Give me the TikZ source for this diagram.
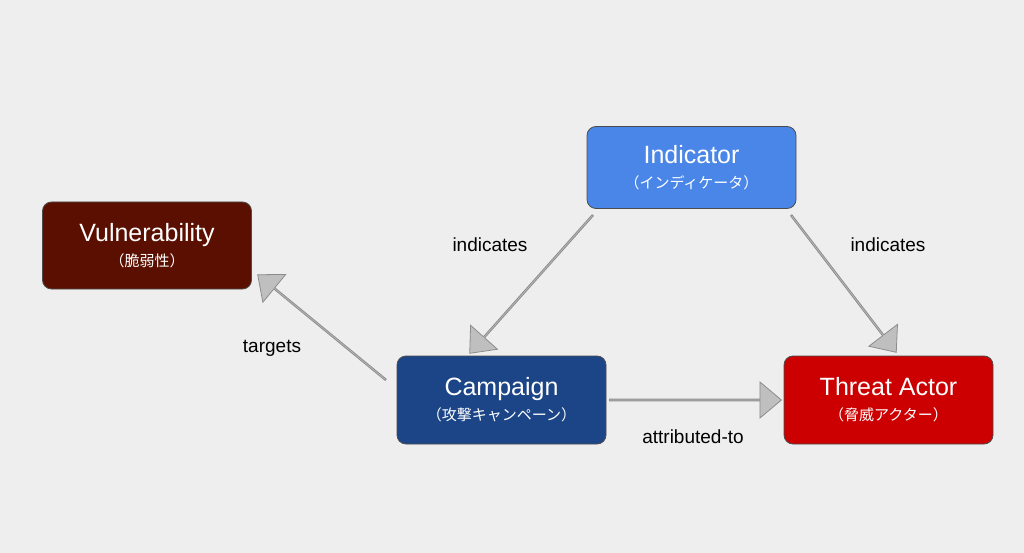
\documentclass[tikz,border=0pt]{standalone}
\usepackage{fontspec}
\setmainfont{Liberation Sans}
\newfontfamily\cjk{Noto Sans CJK JP}
\usetikzlibrary{shapes.arrows,calc}
\definecolor{bg}{HTML}{EEEEEE}
\definecolor{cInd}{HTML}{4A86E8}
\definecolor{cVul}{HTML}{5B0F00}
\definecolor{cCam}{HTML}{1C4587}
\definecolor{cThr}{HTML}{CC0000}
\tikzset{
 box/.style={draw=black!70,line width=0.8pt,rounded corners=9pt,minimum width=209pt,minimum height=82pt,text=white,align=center,font=\fontsize{25}{28}\selectfont},
 lbl/.style={font=\fontsize{19}{22}\selectfont,text=black},
 barrow/.style={single arrow,draw=black!45,fill=black!25,line width=0.8pt,minimum width=36pt,single arrow head extend=8pt,single arrow tip angle=80,inner sep=0pt,anchor=tail}
}
\newcommand\jp[1]{\\[-3pt]{\cjk\fontsize{15}{18}\selectfont #1}}
\newcommand\barr[2]{\path let \p1=($(#2)-(#1)$), \n1={atan2(\y1,\x1)}, \n2={veclen(\x1,\y1)} in node[barrow,rotate=\n1,minimum height=\n2] at (#1) {};}
\begin{document}
\begin{tikzpicture}[x=1pt,y=-1pt]
\fill[bg] (0,0) rectangle (1024,553);
\useasboundingbox (0,0) rectangle (1024,553);
\node[box,fill=cInd] (ind) at (691.5,167.5) {Indicator\jp{（インディケータ）}};
\node[box,fill=cVul,minimum height=87pt] (vul) at (147,245.5) {Vulnerability\jp{（脆弱性）}};
\node[box,fill=cCam,minimum height=88pt] (cam) at (501.5,400) {Campaign\jp{（攻撃キャンペーン）}};
\node[box,fill=cThr,minimum height=88pt] (thr) at (888.5,400) {Threat Actor\jp{（脅威アクター）}};
\coordinate (a1s) at (593,215); \coordinate (a1e) at (470,353);
\coordinate (a2s) at (791,215); \coordinate (a2e) at (896,352);
\coordinate (a3s) at (386,380); \coordinate (a3e) at (258,275);
\coordinate (a4s) at (609,400); \coordinate (a4e) at (781,400);
\barr{a1s}{a1e}
\barr{a2s}{a2e}
\barr{a3s}{a3e}
\barr{a4s}{a4e}
\node[lbl] (l1) at (490,245) {indicates};
\node[lbl] (l2) at (888,245) {indicates};
\node[lbl] (l3) at (272,348) {targets};
\node[lbl] (l4) at (693,437) {attributed-to};
\end{tikzpicture}
\end{document}
